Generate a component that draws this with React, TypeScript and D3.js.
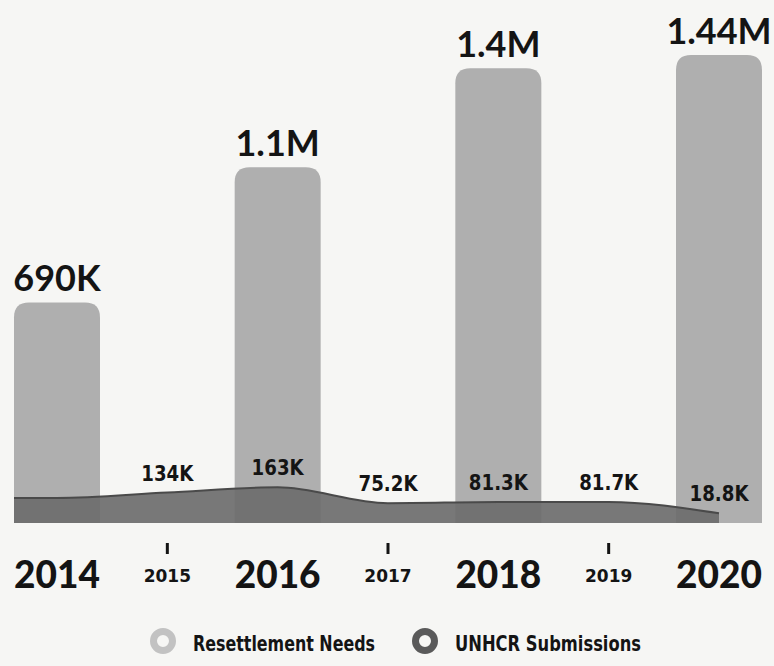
import React from "react";
import * as d3 from "d3";

const barYears = [2014, 2016, 2018, 2020];
const needsValues = [690, 1100, 1400, 1440]; // thousands
const needsLabels = ["690K", "1.1M", "1.4M", "1.44M"];

const subYears = [2014, 2015, 2016, 2017, 2018, 2019, 2020];
const subValues = [104, 134, 163, 75.2, 81.3, 81.7, 18.8]; // thousands
const subLabels = ["", "134K", "163K", "75.2K", "81.3K", "81.7K", "18.8K"];

const majorTicks = ["2014", "2016", "2018", "2020"];
const minorTicks = ["2015", "2017", "2019"];

const legendItems = ["Resettlement Needs", "UNHCR Submissions"];

const W = 774;
const H = 666;
const baseline = 523;
const barWidth = 86;

const BAR_COLOR = "#afafaf";
const AREA_COLOR = "#6c6c6c";
const TEXT = "#141414";

export default function App() {
  const x = d3.scaleLinear().domain([2014, 2020]).range([57, 719]);
  const yBar = d3.scaleLinear().domain([0, 1440]).range([530, 55]);
  const yArea = d3.scaleLinear().domain([-35, 165]).range([baseline, baseline - 36]);

  const areaPts: [number, number][] = [
    [x(2014) - barWidth / 2, subValues[0]],
    ...subYears.map((yr, i) => [x(yr), subValues[i]] as [number, number]),
  ];
  const areaGen = d3
    .area<[number, number]>()
    .x((d) => d[0])
    .y0(baseline)
    .y1((d) => yArea(d[1]))
    .curve(d3.curveMonotoneX);
  const lineGen = d3
    .line<[number, number]>()
    .x((d) => d[0])
    .y((d) => yArea(d[1]))
    .curve(d3.curveMonotoneX);

  const r = 15;
  const barPath = (cx: number, top: number) => {
    const x0 = cx - barWidth / 2;
    const x1 = cx + barWidth / 2;
    const p = d3.path();
    p.moveTo(x0, baseline);
    p.lineTo(x0, top + r);
    p.quadraticCurveTo(x0, top, x0 + r, top);
    p.lineTo(x1 - r, top);
    p.quadraticCurveTo(x1, top, x1, top + r);
    p.lineTo(x1, baseline);
    p.closePath();
    return p.toString();
  };

  const bigFont = "Lato, 'DejaVu Sans', sans-serif";
  const condFont = "'DejaVu Sans Condensed', 'DejaVu Sans', sans-serif";

  const legendX = [163, 425];
  const legendColors = ["#c2c2c2", "#5a5a5a"];
  const legendWidths = [182, 186];

  return (
    <svg
      width={W}
      height={H}
      style={{ position: "absolute", left: 0, top: 0, background: "#f6f6f4" }}
    >
      {barYears.map((yr, i) => (
        <g key={yr}>
          <path d={barPath(x(yr), yBar(needsValues[i]))} fill={BAR_COLOR} />
          <text
            x={x(yr)}
            y={yBar(needsValues[i]) - 11}
            textAnchor="middle"
            fontFamily={bigFont}
            fontWeight={700}
            fontSize={36}
            fill={TEXT}
          >
            {needsLabels[i]}
          </text>
        </g>
      ))}

      <path d={areaGen(areaPts) || ""} fill={AREA_COLOR} fillOpacity={0.92} />
      <path d={lineGen(areaPts) || ""} fill="none" stroke="#4a4a4a" strokeWidth={2} />

      {subYears.map((yr, i) =>
        subLabels[i] ? (
          <text
            key={yr}
            x={x(yr)}
            y={yArea(subValues[i]) - 12}
            textAnchor="middle"
            fontFamily={condFont}
            fontWeight={700}
            fontSize={22}
            fill={TEXT}
            transform={`translate(${x(yr)},0) scale(0.92,1) translate(${-x(yr)},0)`}
          >
            {subLabels[i]}
          </text>
        ) : null
      )}

      {majorTicks.map((t) => (
        <text
          key={t}
          x={x(+t)}
          y={588}
          textAnchor="middle"
          fontFamily={bigFont}
          fontWeight={900}
          fontSize={37}
          fill={TEXT}
        >
          {t}
        </text>
      ))}
      {minorTicks.map((t) => (
        <g key={t}>
          <line x1={x(+t)} x2={x(+t)} y1={543} y2={554} stroke={TEXT} strokeWidth={3} />
          <text
            x={x(+t)}
            y={582}
            textAnchor="middle"
            fontFamily="'DejaVu Sans', sans-serif"
            fontWeight={700}
            fontSize={17}
            fill={TEXT}
          >
            {t}
          </text>
        </g>
      ))}

      {legendItems.map((label, i) => (
        <g key={label}>
          <circle
            cx={legendX[i]}
            cy={641}
            r={9.5}
            fill="none"
            stroke={legendColors[i]}
            strokeWidth={7}
          />
          <text
            x={legendX[i] + 30}
            y={651}
            fontFamily={condFont}
            fontWeight={700}
            fontSize={21}
            fill={TEXT}
            textLength={legendWidths[i]}
            lengthAdjust="spacingAndGlyphs"
          >
            {label}
          </text>
        </g>
      ))}
    </svg>
  );
}
